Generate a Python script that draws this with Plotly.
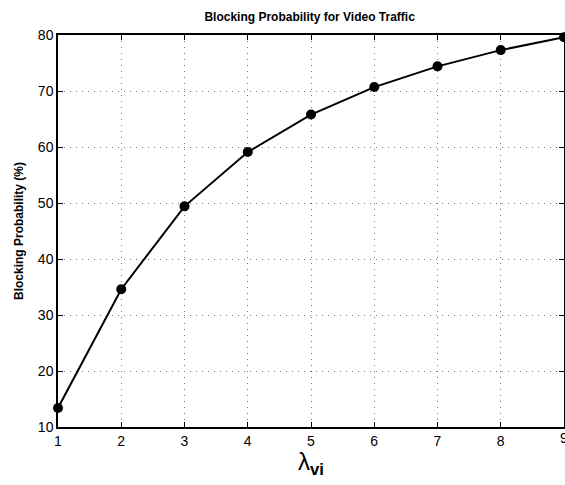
import plotly.graph_objects as go

lam = [1, 2, 3, 4, 5, 6, 7, 8, 9]
blocking = [13.4, 34.6, 49.4, 59.1, 65.8, 70.7, 74.4, 77.3, 79.6]
y_ticks = [10, 20, 30, 40, 50, 60, 70, 80]

fig = go.Figure()
fig.add_trace(go.Scatter(
    x=lam, y=blocking, mode="lines+markers",
    line=dict(color="black", width=2),
    marker=dict(color="black", size=10),
    cliponaxis=False, showlegend=False,
))

axis_common = dict(
    showline=True, linecolor="black", linewidth=1.5, mirror="ticks",
    ticks="inside", ticklen=5, tickcolor="black",
    showgrid=True, gridcolor="#777777", griddash="1px,5px", gridwidth=1,
    zeroline=False, automargin=False,
    tickfont=dict(family="Liberation Sans, Arial", size=14, color="black"),
)

fig.update_layout(
    width=565, height=485,
    margin=dict(l=58, r=1, t=35, b=58),
    plot_bgcolor="white", paper_bgcolor="white",
    title=dict(text="<b>Blocking Probability for Video Traffic</b>",
               x=0.548, xanchor="center", y=0.965, yanchor="middle",
               font=dict(family="Liberation Sans, Arial", size=12, color="black")),
    xaxis=dict(range=[1, 9], tickvals=lam, ticktext=[str(v) for v in lam],
               ticklabelstandoff=0, **axis_common),
    yaxis=dict(range=[10, 80], tickvals=y_ticks, **axis_common),
    annotations=[
        dict(text=str(lam[-1]), xref="x", yref="paper",
             x=lam[-1], y=0, xanchor="center", yanchor="top", yshift=-1,
             showarrow=False,
             font=dict(family="Liberation Sans, Arial", size=14, color="black")),
        dict(text="λ<sub><b>vi</b></sub>", xref="paper", yref="paper",
             x=0.5, y=0, xanchor="center", yanchor="middle", yshift=-36,
             showarrow=False,
             font=dict(family="Liberation Sans, Arial", size=24, color="black")),
        dict(text="<b>Blocking Probability (%)</b>", xref="paper", yref="paper",
             x=0, y=0.5, xanchor="center", yanchor="middle", xshift=-39,
             textangle=-90, showarrow=False,
             font=dict(family="Liberation Sans, Arial", size=12, color="black")),
    ],
)

fig.write_html("out.html", config={"displayModeBar": False},
               post_script="document.body.style.margin='0';document.body.style.overflow='hidden';")
